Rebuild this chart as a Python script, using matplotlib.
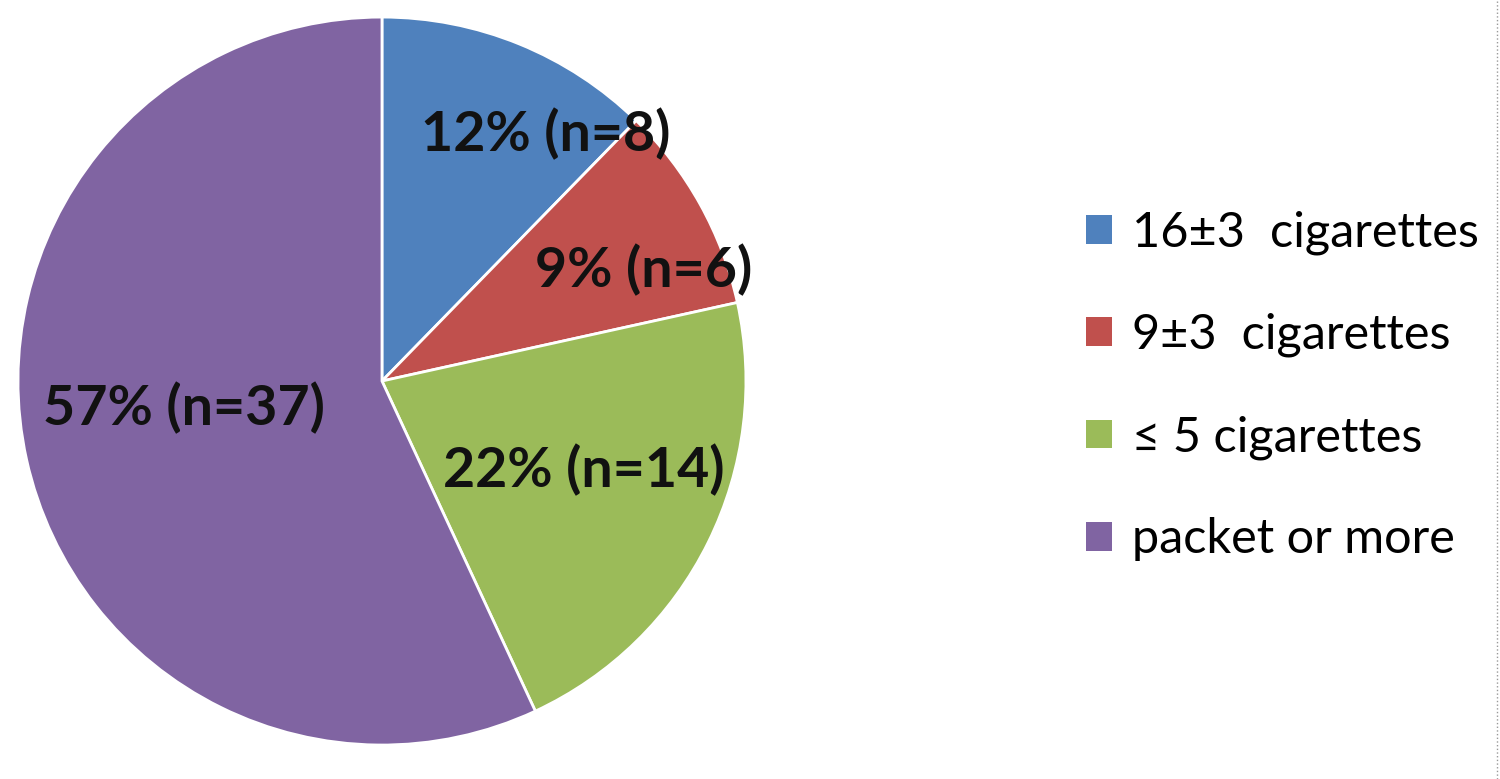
import numpy as np
import matplotlib.pyplot as plt
from matplotlib.patches import Patch
from matplotlib.lines import Line2D

categories = ["16±3  cigarettes", "9±3  cigarettes", "≤ 5 cigarettes", "packet or more"]
counts = [8, 6, 14, 37]
percents = [12, 9, 22, 57]
colors = ["#4F81BD", "#C0504D", "#9BBB59", "#8064A2"]

# label placement relative to pie centre (radius 1)
label_pos = [(0.45, 0.68), (0.72, 0.305), (0.555, -0.245), (-0.545, -0.075)]

plt.rcParams["font.family"] = ["Lato", "DejaVu Sans"]

fig = plt.figure(figsize=(15, 7.79), dpi=100)
ax = fig.add_axes([0.012, 0.0436, 0.4853, 0.9345])

wedges, _ = ax.pie(counts, colors=colors, startangle=90, counterclock=False,
                   radius=1, wedgeprops=dict(edgecolor="white", linewidth=2))
ax.set_xlim(-1, 1)
ax.set_ylim(-1, 1)
ax.set_aspect("equal")
ax.axis("off")

for (x, y), p, n in zip(label_pos, percents, counts):
    ax.text(x, y, f"{p}% (n={n})", ha="center", va="center",
            fontsize=40, fontweight="bold", color="#111111")

handles = [Patch(facecolor=c, edgecolor="none") for c in colors]
fig.legend(handles, categories, loc="center left", bbox_to_anchor=(0.7113, 0.5046),
           frameon=False, fontsize=35, handlelength=0.53, handleheight=0.53,
           handletextpad=0.4, labelspacing=1.19, borderaxespad=0)

# dotted frame edge at the right
fig.add_artist(Line2D([0.998, 0.998], [0, 1], transform=fig.transFigure,
                      color="#999999", linestyle=":", linewidth=1))

fig.savefig("out.png", dpi=100)
